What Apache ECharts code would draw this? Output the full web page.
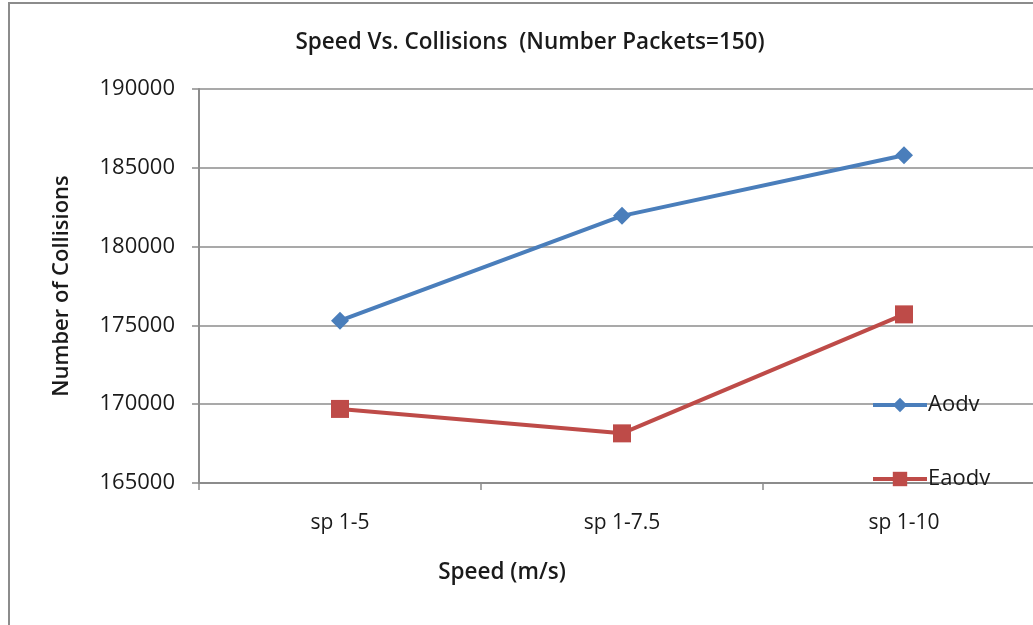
<!DOCTYPE html>
<html>
<head>
<meta charset="utf-8">
<script src="https://cdn.jsdelivr.net/npm/echarts@6/dist/echarts.min.js"></script>
<style>
html,body{margin:0;padding:0;background:#fff;}
#chart{width:1033px;height:625px;}
</style>
</head>
<body>
<div id="chart"></div>
<script>
const categories = ['sp 1-5', 'sp 1-7.5', 'sp 1-10'];
const aodv = [175300, 181950, 185800];
const eaodv = [169700, 168150, 175700];
const seriesNames = ['Aodv', 'Eaodv'];
const titleText = 'Speed Vs. Collisions  (Number Packets=150)';
const xName = 'Speed (m/s)';
const yName = 'Number of Collisions';

const font = '"Open Sans", sans-serif';
const chart = echarts.init(document.getElementById('chart'), null, {renderer: 'canvas'});
chart.setOption({
  animation: false,
  backgroundColor: '#fff',
  graphic: [{
    type: 'rect', z: -1,
    shape: {x: 9, y: 3, width: 1200, height: 800},
    style: {fill: '#fff', stroke: '#8c8c8c', lineWidth: 2}
  }],
  title: {
    text: titleText, left: 525, top: 26, textAlign: 'center',
    textStyle: {fontFamily: font, fontSize: 22.5, fontWeight: 600, color: '#1a1a1a'}
  },
  grid: {left: 199, top: 89, width: 846, height: 394, containLabel: false, outerBoundsMode: 'none'},
  legend: {
    orient: 'vertical', left: 866, top: 389, itemGap: 52,
    itemWidth: 54, itemHeight: 18,
    lineStyle: {width: 4},
    textStyle: {fontFamily: font, fontSize: 22, color: '#1a1a1a', padding: [0,0,0,-4]},
    data: seriesNames
  },
  xAxis: {
    type: 'category', data: categories, boundaryGap: true,
    name: xName, nameLocation: 'middle', nameGap: 78,
    nameTextStyle: {fontFamily: font, fontSize: 22.5, fontWeight: 600, color: '#1a1a1a',
      padding: [0, 240, 0, 0]},
    axisLine: {lineStyle: {color: '#8c8c8c', width: 2}},
    axisTick: {show: true, length: 7, lineStyle: {color: '#8c8c8c', width: 1.5}},
    axisLabel: {fontFamily: font, fontSize: 21, color: '#1a1a1a', margin: 30}
  },
  yAxis: {
    type: 'value', min: 165000, max: 190000, interval: 5000,
    name: yName, nameLocation: 'middle', nameGap: 126,
    nameTextStyle: {fontFamily: font, fontSize: 22, fontWeight: 600, color: '#1a1a1a'},
    axisLine: {show: true, lineStyle: {color: '#8c8c8c', width: 2}},
    axisTick: {show: true, length: 7, lineStyle: {color: '#8c8c8c', width: 1.5}},
    axisLabel: {fontFamily: font, fontSize: 22, color: '#1a1a1a', margin: 24,
      formatter: v => String(v)},
    splitLine: {lineStyle: {color: '#8c8c8c', width: 1.5}}
  },
  series: [{
    name: seriesNames[0], type: 'line', data: aodv,
    symbol: 'diamond', symbolSize: 18,
    lineStyle: {color: '#4a7ebb', width: 4},
    itemStyle: {color: '#4a7ebb'}
  }, {
    name: seriesNames[1], type: 'line', data: eaodv,
    symbol: 'rect', symbolSize: 18,
    lineStyle: {color: '#be4b48', width: 4},
    itemStyle: {color: '#be4b48'}
  }]
});
</script>
</body>
</html>
